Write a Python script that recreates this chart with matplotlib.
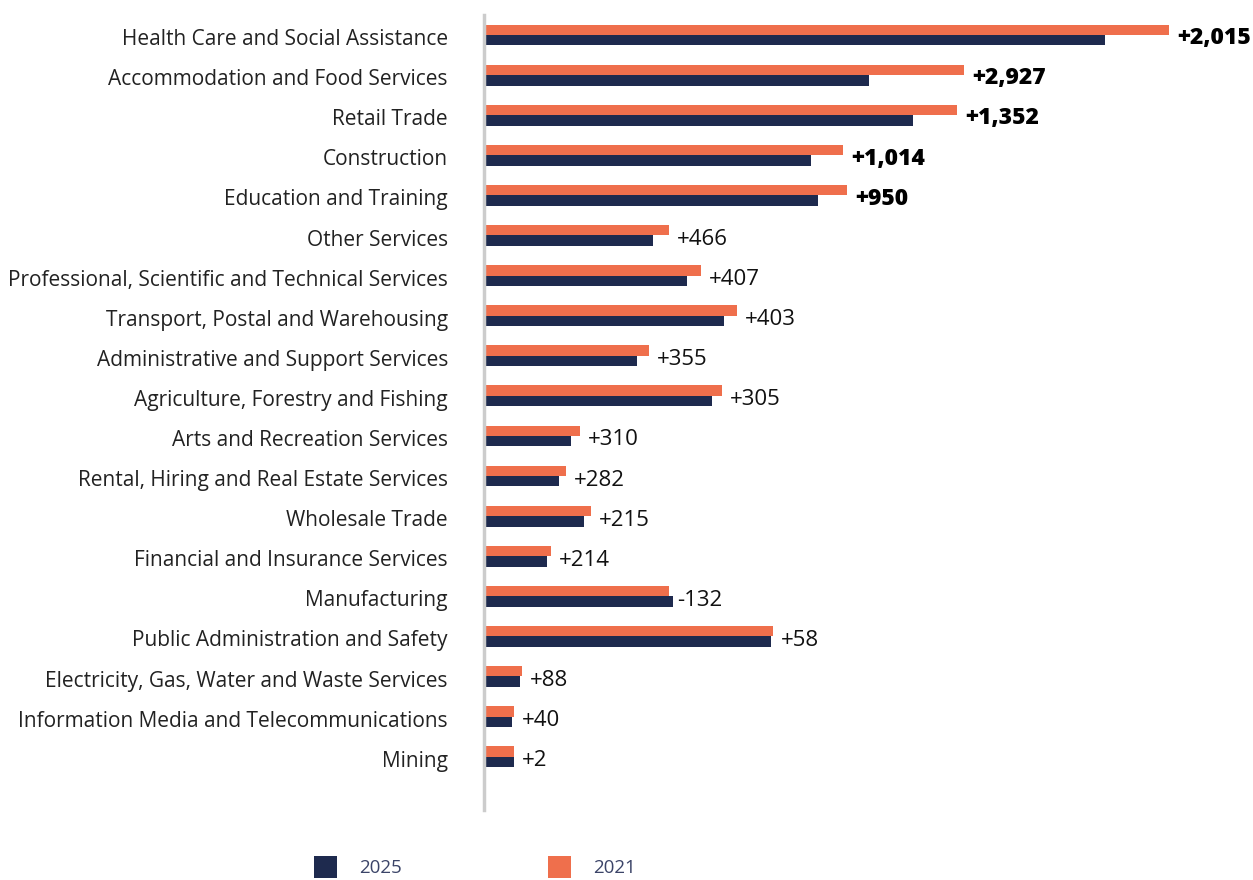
import matplotlib
matplotlib.use("Agg")
import matplotlib.pyplot as plt
import matplotlib.transforms as mtransforms
import numpy as np

categories = [
    "Health Care and Social Assistance",
    "Accommodation and Food Services",
    "Retail Trade",
    "Construction",
    "Education and Training",
    "Other Services",
    "Professional, Scientific and Technical Services",
    "Transport, Postal and Warehousing",
    "Administrative and Support Services",
    "Agriculture, Forestry and Fishing",
    "Arts and Recreation Services",
    "Rental, Hiring and Real Estate Services",
    "Wholesale Trade",
    "Financial and Insurance Services",
    "Manufacturing",
    "Public Administration and Safety",
    "Electricity, Gas, Water and Waste Services",
    "Information Media and Telecommunications",
    "Mining",
]
values_2021 = [683, 478, 471, 357, 361, 183, 215, 251, 163, 236, 94, 80, 105, 65, 183, 287, 36, 28, 28]
values_2025 = [619, 383, 427, 325, 332, 167, 201, 238, 151, 226, 85, 73, 98, 61, 187, 285, 34, 26, 28]
change_labels = ["+2,015", "+2,927", "+1,352", "+1,014", "+950", "+466", "+407", "+403",
                 "+355", "+305", "+310", "+282", "+215", "+214", "-132", "+58", "+88", "+40", "+2"]
bold_count = 5

NAVY = "#1e2a4e"
ORANGE = "#ef6f4c"
FONT = "Open Sans"

fig = plt.figure(figsize=(12.53, 8.8), dpi=100)
W, H = 1253, 880
ax = fig.add_axes([484 / W, 1 - 810 / H, (W - 484) / W, (810 - 15) / H])

y = np.arange(len(categories))
h = 0.26
ax.barh(y - h / 2, values_2021, height=h, color=ORANGE, label="2021", left=0)
ax.barh(y + h / 2, values_2025, height=h, color=NAVY, label="2025", left=0)

for i, (lab, v21) in enumerate(zip(change_labels, values_2021)):
    if i < bold_count:
        ax.text(v21 + 8, i + 0.08, lab, va="center", ha="left",
                fontsize=16.5, fontweight=800, color="black", family=FONT)
    else:
        ax.text(v21 + 8, i + 0.1, lab, va="center", ha="left",
                fontsize=16, color="#111111", family=FONT)

ax.set_xlim(-2, W - 484 - 2)
ax.set_ylim(19.33, -0.5)
ax.set_yticks(y)
ax.set_yticklabels(categories, fontsize=15, family=FONT, color="#222222")
ax.tick_params(axis="y", length=0, pad=26)
off = mtransforms.ScaledTranslation(0, -1.5 / 72, fig.dpi_scale_trans)
for t in ax.get_yticklabels():
    t.set_transform(t.get_transform() + off)
ax.set_xticks([])
for s in ["top", "right", "bottom"]:
    ax.spines[s].set_visible(False)
ax.spines["left"].set_color("#cccccc")
ax.spines["left"].set_linewidth(2.5)

handles, labels = ax.get_legend_handles_labels()
leg = fig.legend([handles[1], handles[0]], [labels[1], labels[0]],
                 loc="center left", bbox_to_anchor=(297 / W, 1 - 867 / H),
                 ncol=2, frameon=False, handlelength=1.25, handleheight=1.45,
                 handletextpad=1.15, columnspacing=7.8, prop={"family": FONT, "size": 13.5})
for t in leg.get_texts():
    t.set_color("#3b4468")

fig.savefig("out.png", dpi=100)
